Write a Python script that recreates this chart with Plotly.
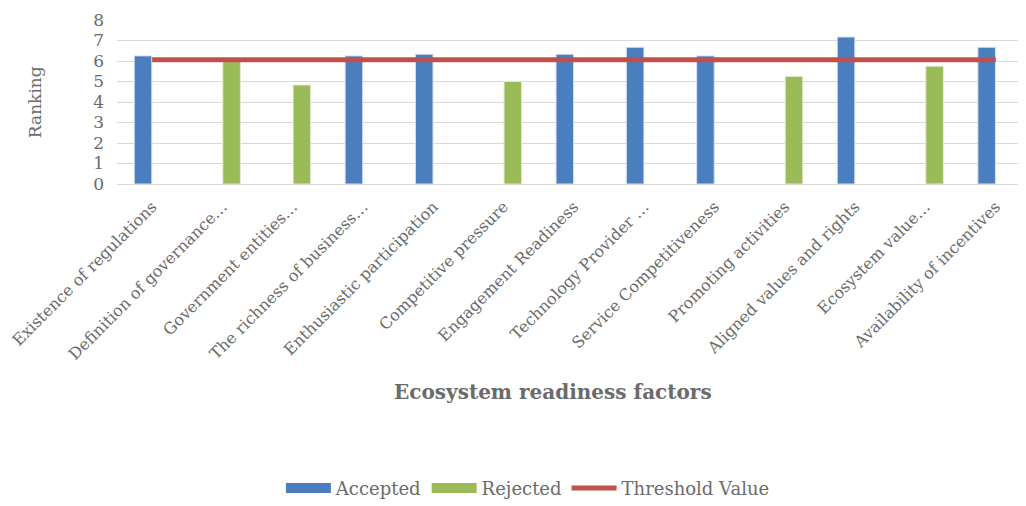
import plotly.graph_objects as go

categories = [
    "Existence of regulations", "Definition of governance…", "Government entities…",
    "The richness of business…", "Enthusiastic participation", "Competitive pressure",
    "Engagement Readiness", "Technology Provider …", "Service Competitiveness",
    "Promoting activities", "Aligned values and rights", "Ecosystem value…",
    "Availability of incentives",
]
accepted = [6.25, None, None, 6.25, 6.33, None, 6.33, 6.67, 6.25, None, 7.17, None, 6.67]
rejected = [None, 6.0, 4.83, None, None, 5.0, None, None, None, 5.25, None, 5.75, None]
threshold = [6.06] * 13
y_ticks = [0, 1, 2, 3, 4, 5, 6, 7, 8]

FONT = "DejaVu Serif"
TXT = "#6b6b6b"
BLUE, GREEN, RED = "#4A7EBF", "#9BBB59", "#C0504D"

fig = go.Figure()
fig.add_trace(go.Bar(x=categories, y=accepted, name="Accepted", legendgroup="a", showlegend=False,
                     marker=dict(color=BLUE, line=dict(color="#D6E0EE", width=1))))
fig.add_trace(go.Bar(x=categories, y=rejected, name="Rejected", legendgroup="r", showlegend=False,
                     marker=dict(color=GREEN, line=dict(color="#E3EBD3", width=1))))
fig.add_trace(go.Scatter(x=categories, y=threshold, name="Threshold Value", mode="lines",
                         legendgroup="t", showlegend=False,
                         line=dict(color=RED, width=5)))
# legend entries (wide swatches like the original)
fig.add_trace(go.Scatter(x=[None], y=[None], mode="lines", name="Accepted", legendgroup="a",
                         line=dict(color=BLUE, width=10)))
fig.add_trace(go.Scatter(x=[None], y=[None], mode="lines", name="Rejected", legendgroup="r",
                         line=dict(color=GREEN, width=10)))
fig.add_trace(go.Scatter(x=[None], y=[None], mode="lines", name="Threshold Value", legendgroup="t",
                         line=dict(color=RED, width=5)))

fig.update_layout(
    width=1026, height=506,
    margin=dict(l=109, r=8, t=12, b=327),
    paper_bgcolor="white", plot_bgcolor="white",
    barmode="group", bargap=0.48, bargroupgap=0.04,
    font=dict(family=FONT, color=TXT, size=16),
    showlegend=True,
    legend=dict(orientation="h", x=0.452, xanchor="center", y=-1.855, yanchor="middle",
                font=dict(size=18, color=TXT), itemwidth=45, traceorder="normal",
                tracegroupgap=0),
    xaxis=dict(range=[-0.5, 12.43], tickangle=-45, tickfont=dict(size=16, color=TXT),
               showgrid=False, showline=True, linecolor="#D9D9D9", linewidth=1, ticks="",
               ticklabelstandoff=6, automargin=False),
    yaxis=dict(range=[0, 8], tickvals=y_ticks, tickfont=dict(size=17, color=TXT),
               showgrid=True, gridcolor="#D9D9D9", gridwidth=1, zeroline=False,
               ticks="", ticklen=0, ticklabelstandoff=12, ticklabeloverflow="allow",
               automargin=False),
    annotations=[
        dict(text="Ranking", xref="paper", yref="paper", x=-0.09, y=0.5,
             textangle=-90, showarrow=False, font=dict(size=17, color=TXT),
             xanchor="center", yanchor="middle"),
        dict(text="<b>Ecosystem readiness factors</b>", xref="paper", yref="paper",
             x=0.48, y=-1.27, showarrow=False, font=dict(size=20, color=TXT),
             xanchor="center", yanchor="middle"),
    ],
)
fig.write_html("out.html")
